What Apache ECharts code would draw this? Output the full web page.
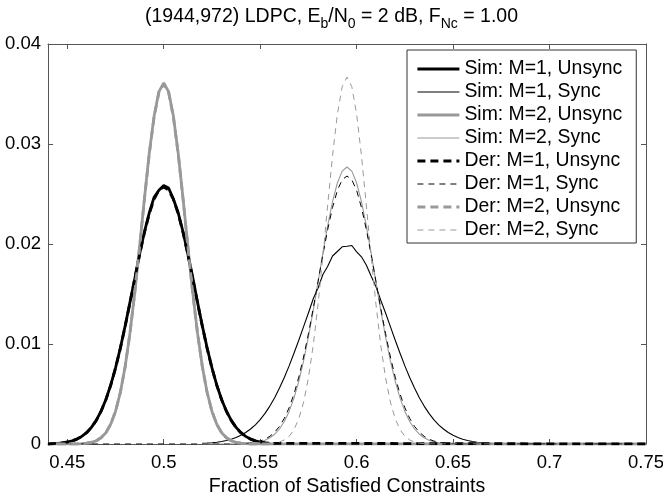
<!DOCTYPE html>
<html>
<head>
<meta charset="utf-8">
<script src="https://cdn.jsdelivr.net/npm/echarts@6/dist/echarts.min.js"></script>
<style>html,body{margin:0;padding:0;background:#fff}#c{width:663px;height:493px}</style>
</head>
<body>
<div id="c"></div>
<script>
// ---- data ----
const xUnsync = [0.44,
  0.445,0.4475,0.45,0.4525,0.455,0.4575,0.46,0.4625,0.465,0.4675,0.47,0.4725,0.475,0.4775,0.48,0.4825,0.485,0.4875,0.49,0.4925,0.495,0.4975,
  0.5,
  0.5025,0.505,0.5075,0.51,0.5125,0.515,0.5175,0.52,0.5225,0.525,0.5275,0.53,0.5325,0.535,0.5375,0.54,0.5425,0.545,0.5475,0.55,0.5525,0.555,
  0.75];
const xSync = [0.44,
  0.52,0.5225,0.525,0.5275,0.53,0.5325,0.535,0.5375,0.54,0.5425,0.545,0.5475,0.55,0.5525,0.555,0.5575,0.56,0.5625,0.565,0.5675,0.57,0.5725,0.575,0.5775,0.58,0.5825,0.585,0.5875,0.59,0.5925,
  0.595,
  0.5975,0.6,0.6025,0.605,0.6075,0.61,0.6125,0.615,0.6175,0.62,0.6225,0.625,0.6275,0.63,0.6325,0.635,0.6375,0.64,0.6425,0.645,0.6475,0.65,0.6525,0.655,0.6575,0.66,0.6625,0.665,0.6675,0.67,
  0.75];

const simM1Unsync = [0,
  0.00007,0.00012,0.00020,0.00031,0.00049,0.00076,0.00113,0.00166,0.00236,0.00328,0.00445,0.00589,0.00761,0.00960,0.01181,0.01419,0.01655,0.01901,0.02122,0.02312,0.02468,0.02538,
  0.02585,
  0.02560,0.02450,0.02312,0.02122,0.01901,0.01670,0.01419,0.01181,0.00960,0.00761,0.00589,0.00445,0.00328,0.00236,0.00166,0.00113,0.00076,0.00049,0.00031,0.00020,0.00012,0.00007,
  null];
const simM2Unsync = [0,
  0,0,0,0,0,0.00003,0.00008,0.00016,0.00032,0.00062,0.00113,0.00197,0.00326,0.00515,0.00775,0.01111,0.01519,0.01979,0.02457,0.02908,0.03279,0.03524,
  0.03610,
  0.03524,0.03279,0.02908,0.02457,0.01979,0.01519,0.01111,0.00775,0.00515,0.00326,0.00197,0.00113,0.00062,0.00032,0.00016,0.00008,0.00003,0,0,0,0,0,
  0];
const derM1Unsync = [0,
  0.00007,0.00012,0.00019,0.00031,0.00049,0.00075,0.00113,0.00165,0.00235,0.00327,0.00443,0.00587,0.00758,0.00956,0.01177,0.01413,0.01656,0.01894,0.02114,0.02303,0.02448,0.02539,
  0.02570,
  0.02539,0.02448,0.02303,0.02114,0.01894,0.01656,0.01413,0.01177,0.00956,0.00758,0.00587,0.00443,0.00327,0.00235,0.00165,0.00113,0.00075,0.00049,0.00031,0.00019,0.00012,0.00007,
  0];
const derM2Unsync = [null,
  0,0,0,0,0,0.00003,0.00008,0.00016,0.00032,0.00062,0.00113,0.00197,0.00326,0.00514,0.00773,0.01108,0.01515,0.01974,0.02451,0.02900,0.03270,0.03515,
  0.03600,
  0.03515,0.03270,0.02900,0.02451,0.01974,0.01515,0.01108,0.00773,0.00514,0.00326,0.00197,0.00113,0.00062,0.00032,0.00016,0.00008,0.00003,0,0,0,0,0,
  null];

const simM1Sync = [null,
  0.00006,0.00009,0.00013,0.00018,0.00025,0.00035,0.00048,0.00065,0.00087,0.00115,0.00150,0.00192,0.00244,0.00306,0.00379,0.00463,0.00559,0.00665,0.00781,0.00907,0.01038,0.01174,0.01310,0.01452,0.01560,0.01695,0.01778,0.01880,0.01925,0.01972,
  0.01978,
  0.01985,0.01922,0.01872,0.01790,0.01680,0.01575,0.01438,0.01310,0.01174,0.01038,0.00907,0.00781,0.00665,0.00559,0.00463,0.00379,0.00306,0.00244,0.00192,0.00150,0.00115,0.00087,0.00065,0.00048,0.00035,0.00025,0.00018,0.00013,0.00009,0.00006,
  null];
const simM2Sync = [null,
  0,0,0,0,0,0,0,0,0,0.00003,0.00007,0.00013,0.00022,0.00038,0.00062,0.00098,0.00150,0.00225,0.00326,0.00459,0.00627,0.00831,0.01070,0.01337,0.01622,0.01910,0.02184,0.02423,0.02610,0.02729,
  0.02770,
  0.02729,0.02610,0.02423,0.02184,0.01910,0.01622,0.01337,0.01070,0.00831,0.00627,0.00459,0.00326,0.00225,0.00150,0.00098,0.00062,0.00038,0.00022,0.00013,0.00007,0.00003,0,0,0,0,0,0,0,0,0,
  null];
const derM1Sync = [0,
  0,0,0,0,0,0,0,0,0.00003,0.00006,0.00010,0.00018,0.00030,0.00048,0.00077,0.00118,0.00176,0.00256,0.00363,0.00499,0.00668,0.00870,0.01102,0.01357,0.01626,0.01894,0.02146,0.02365,0.02535,0.02643,
  0.02680,
  0.02643,0.02535,0.02365,0.02146,0.01894,0.01626,0.01357,0.01102,0.00870,0.00668,0.00499,0.00363,0.00256,0.00176,0.00118,0.00077,0.00048,0.00030,0.00018,0.00010,0.00006,0.00003,0,0,0,0,0,0,0,0,
  0];
const derM2Sync = [null,
  0,0,0,0,0,0,0,0,0,0,0,0,0,0,0.00004,0.00009,0.00019,0.00040,0.00077,0.00143,0.00252,0.00419,0.00661,0.00987,0.01399,0.01878,0.02390,0.02884,0.03297,0.03573,
  0.03670,
  0.03573,0.03297,0.02884,0.02390,0.01878,0.01399,0.00987,0.00661,0.00419,0.00252,0.00143,0.00077,0.00040,0.00019,0.00009,0.00004,0,0,0,0,0,0,0,0,0,0,0,0,0,0,
  null];

const seriesNames = ['Sim: M=1, Unsync','Sim: M=1, Sync','Sim: M=2, Unsync','Sim: M=2, Sync',
                     'Der: M=1, Unsync','Der: M=1, Sync','Der: M=2, Unsync','Der: M=2, Sync'];
const xTicks = [0.45,0.5,0.55,0.6,0.65,0.7,0.75];
const titleText = '{m|(1944,972) LDPC, E}{s|b}{m|/N}{s|0}{m| = 2 dB, F}{s|Nc}{m| = 1.00}';
const xTitle = 'Fraction of Satisfied Constraints';

// ---- chart ----
const FONT = '"Liberation Sans", Arial, Helvetica, sans-serif';
const BLACK = '#000', GRAY = '#999';
function pairs(xs, ys){ return xs.map((x,i)=>[x, ys[i]]); }
const specs = [
  [xUnsync, simM1Unsync, BLACK, 2.8, 'solid'],
  [xSync,   simM1Sync,   BLACK, 1.1, 'solid'],
  [xUnsync, simM2Unsync, GRAY, 2.8, 'solid'],
  [xSync,   simM2Sync,   GRAY, 1.1, 'solid'],
  [xUnsync, derM1Unsync, BLACK, 2.8, [8,5]],
  [xSync,   derM1Sync,   BLACK, 1.0, [6,5]],
  [xUnsync, derM2Unsync, GRAY, 2.8, [8,5]],
  [xSync,   derM2Sync,   GRAY, 1.0, [6,5]]
];
const series = specs.map((s,i)=>({
  name: seriesNames[i], type:'line', symbol:'none', showSymbol:false, connectNulls:false,
  data: pairs(s[0], s[1]), xAxisIndex:0, yAxisIndex:0,
  lineStyle:{color:s[2], width:s[3], type:s[4]}, itemStyle:{color:s[2]},
  animation:false, silent:true
}));

const chart = echarts.init(document.getElementById('c'), null, {renderer:'canvas'});
const AX = '#555';
chart.setOption({
  backgroundColor:'#fff',
  animation:false,
  title:{
    text: titleText, left:'center', top:2,
    textStyle:{
      fontWeight:'normal',
      rich:{
        m:{fontFamily:FONT, fontSize:19.5, fontWeight:'normal', color:'#000', lineHeight:24, verticalAlign:'top'},
        s:{fontFamily:FONT, fontSize:14, fontWeight:'normal', color:'#000', lineHeight:12, verticalAlign:'bottom'}
      }
    }
  },
  grid:{left:48, right:17, top:44, bottom:49, containLabel:false, outerBoundsMode:'none'},
  legend:{
    data: seriesNames, orient:'vertical', left:407, top:50,
    itemWidth:42, itemHeight:14, itemGap:3, padding:[9,14,3,9],
    borderColor:'#333', borderWidth:1, backgroundColor:'#fff',
    selectedMode:false,
    itemStyle:{opacity:0, color:'transparent', borderWidth:0},
    lineStyle:{width:'inherit', type:'inherit', color:'inherit'},
    textStyle:{fontFamily:FONT, fontSize:19.4, color:'#000', lineHeight:20}
  },
  xAxis:[{
    type:'value', min:0.44, max:0.75, position:'bottom',
    axisLine:{show:true, onZero:false, lineStyle:{color:AX, width:1}},
    axisTick:{show:true, inside:true, length:5, customValues:xTicks, lineStyle:{color:AX}},
    axisLabel:{show:true, customValues:xTicks, fontFamily:FONT, fontSize:18.5, color:'#000', margin:9},
    splitLine:{show:false},
    name:xTitle, nameLocation:'middle', nameGap:25,
    nameTextStyle:{fontFamily:FONT, fontSize:19.5, color:'#000'}
  },{
    type:'value', min:0.44, max:0.75, position:'top',
    axisLine:{show:true, onZero:false, lineStyle:{color:AX, width:1}},
    axisTick:{show:true, inside:true, length:5, customValues:xTicks, lineStyle:{color:AX}},
    axisLabel:{show:false}, splitLine:{show:false}
  }],
  yAxis:[{
    type:'value', min:0, max:0.04, interval:0.01, position:'left',
    axisLine:{show:true, onZero:false, lineStyle:{color:AX, width:1}},
    axisTick:{show:true, inside:true, length:5, lineStyle:{color:AX}},
    axisLabel:{show:true, fontFamily:FONT, fontSize:18.5, color:'#000', margin:7,
      formatter:v=>String(+v.toFixed(2))},
    splitLine:{show:false}
  },{
    type:'value', min:0, max:0.04, interval:0.01, position:'right',
    axisLine:{show:true, onZero:false, lineStyle:{color:AX, width:1}},
    axisTick:{show:true, inside:true, length:5, lineStyle:{color:AX}},
    axisLabel:{show:false}, splitLine:{show:false}
  }],
  series: series
});
</script>
</body>
</html>
